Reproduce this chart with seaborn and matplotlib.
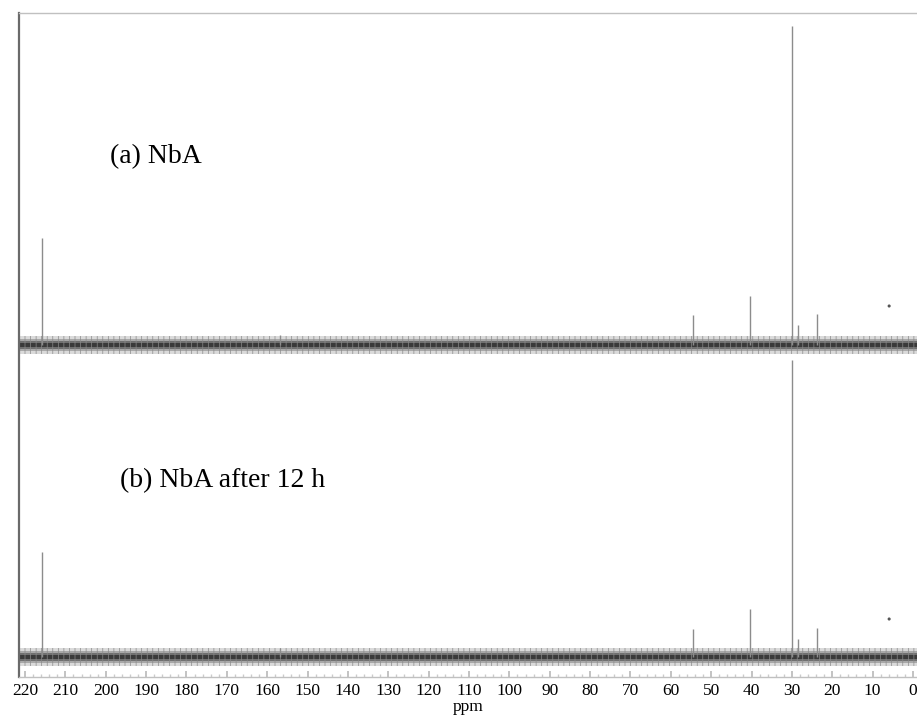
import numpy as np
import pandas as pd
import matplotlib
matplotlib.use("Agg")
import matplotlib.pyplot as plt
import seaborn as sns

# ==============================
# DATA
# ==============================
peak_ppm = [215.8, 156.8, 54.5, 40.5, 30.0, 28.5, 23.8]
peaks_a = [107, 10, 30, 49, 319, 20, 31]      # (a) NbA
peaks_b = [105, 9, 28, 48, 297, 18, 29]       # (b) NbA after 12 h
dot_ppm = [5.9]
dot_a = [39]
dot_b = [38]
noise_level = 9          # half width of the baseline noise band
labels = ["(a) NbA", "(b) NbA after 12 h"]
xticks = list(range(0, 230, 10))

# ==============================
# STYLE
# ==============================
sns.set_theme(style="white")
plt.rcParams["font.family"] = ["Liberation Serif", "DejaVu Serif"]
plt.rcParams["text.color"] = "black"
plt.rcParams["xtick.color"] = "black"
plt.rcParams["axes.labelcolor"] = "black"
plt.rcParams["hatch.linewidth"] = 0.5

fig = plt.figure(figsize=(9.17, 7.17), dpi=100)
ax = fig.add_axes([19 / 917, 40 / 717, 898 / 917, 664 / 717])

xlim = (221.5, -1.0)
ax.set_xlim(*xlim)
ax.set_ylim(0, 664)

offsets = [332, 20]
spectra = [peaks_a, peaks_b]
dots = [dot_a, dot_b]
label_pos = [(198.9, 520), (196.5, 196)]

# graded grey bands standing in for the baseline noise
band_shades = [(1.0, "#dadada"), (0.7, "#a8a8a8"), (0.45, "#707070"), (0.2, "#3a3a3a")]

for off, heights, dh, lab, pos in zip(offsets, spectra, dots, labels, label_pos):
    xs = np.array(xlim)
    for frac, shade in band_shades:
        ax.fill_between(xs, off - noise_level * frac, off + noise_level * frac,
                        facecolor=shade, linewidth=0, zorder=1)
    # faint vertical texture over the band
    ax.fill_between(xs, off - noise_level, off + noise_level, facecolor="none",
                    edgecolor="#8a8a8a", hatch="|||", linewidth=0, zorder=1.5)
    # stick peaks
    df = pd.DataFrame({"ppm": peak_ppm, "h": heights})
    ax.vlines(df["ppm"], off, off + df["h"], color="#8c8c8c", lw=1.0, zorder=3)
    sns.scatterplot(x=dot_ppm, y=[off + d for d in dh], ax=ax, s=5,
                    color="#555555", edgecolor="none", zorder=3)
    ax.text(pos[0], pos[1], lab, fontsize=20, ha="left", va="center")

ax.set_xticks(xticks)
ax.set_xticklabels([str(t) for t in xticks], fontsize=12.5)
ax.set_xticks(np.arange(0, 222, 2), minor=True)
ax.tick_params(axis="x", which="major", direction="in", length=4,
               color="#bbbbbb", pad=4, bottom=True)
ax.tick_params(axis="x", which="minor", direction="in", length=2.5,
               color="#cccccc", bottom=True)
ax.set_yticks([])
ax.set_xlabel("ppm", fontsize=12.5, labelpad=0.5)

for side in ["top", "bottom"]:
    ax.spines[side].set_color("#c0c0c0")
    ax.spines[side].set_linewidth(1.0)
ax.spines["left"].set_color("#6a6a6a")
ax.spines["left"].set_linewidth(1.6)
ax.spines["right"].set_visible(False)

fig.savefig("out.png", dpi=100)
